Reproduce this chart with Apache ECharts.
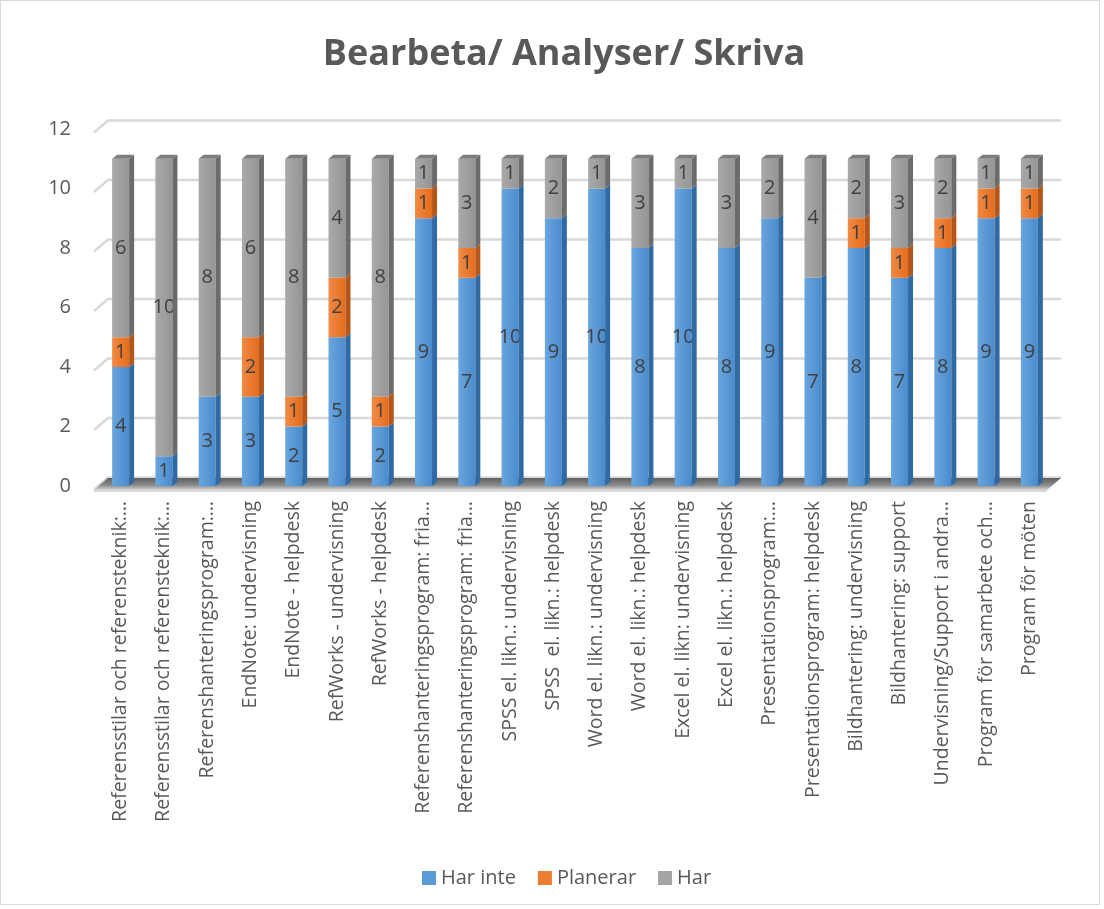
<!DOCTYPE html>
<html><head><meta charset="utf-8">
<script src="https://cdn.jsdelivr.net/npm/echarts@6/dist/echarts.min.js"></script>
<style>
html,body{margin:0;padding:0;background:#fff;}
#c{position:absolute;left:0;top:0;width:1100px;height:905px;border:1px solid #d9d9d9;box-sizing:border-box;}
</style></head>
<body><div id="c"></div>
<script>
const categories = [
 "Referensstilar och referensteknik:…",
 "Referensstilar och referensteknik:…",
 "Referenshanteringsprogram:…",
 "EndNote: undervisning",
 "EndNote - helpdesk",
 "RefWorks - undervisning",
 "RefWorks - helpdesk",
 "Referenshanteringsprogram: fria…",
 "Referenshanteringsprogram: fria…",
 "SPSS el. likn.: undervisning",
 "SPSS  el. likn.: helpdesk",
 "Word el. likn.: undervisning",
 "Word el. likn.: helpdesk",
 "Excel el. likn: undervisning",
 "Excel el. likn.: helpdesk",
 "Presentationsprogram:…",
 "Presentationsprogram: helpdesk",
 "Bildhantering: undervisning",
 "Bildhantering: support",
 "Undervisning/Support i andra…",
 "Program för samarbete och…",
 "Program för möten"
];
const harInte  = [4,1,3,3,2,5,2,9,7,10,9,10,8,10,8,9,7,8,7,8,9,9];
const planerar = [1,0,0,2,1,2,1,1,1,0,0,0,0,0,0,0,0,1,1,1,1,1];
const har      = [6,10,8,6,8,4,8,1,3,1,2,1,3,1,3,2,4,2,3,2,1,1];
const yTicks = [0,2,4,6,8,10,12];
const seriesNames = ["Har inte","Planerar","Har"];

const BW = 17, DX = 5, DY = 4;
const frontCols = [
  {type:'linear',x:0,y:0,x2:1,y2:0,colorStops:[{offset:0,color:'#6aa6de'},{offset:1,color:'#4a8bcc'}]},
  {type:'linear',x:0,y:0,x2:1,y2:0,colorStops:[{offset:0,color:'#f08a45'},{offset:1,color:'#e56c1c'}]},
  {type:'linear',x:0,y:0,x2:1,y2:0,colorStops:[{offset:0,color:'#a9a9a9'},{offset:1,color:'#959595'}]}
];
const sideCols = ['#2f6aa3','#b4561a','#6b6b6b'];
const topCols = ['#5a8fc4','#d0722f','#7d7d7d'];
const legendCols = ['#5b9bd5','#ed7d31','#a5a5a5'];

const chart = echarts.init(document.getElementById('c'));
const font = '"Open Sans", "Noto Sans", sans-serif';
const stacks = [harInte, planerar, har];

const barSeries = stacks.map((arr, k) => ({
  name: seriesNames[k], type: 'bar', stack: 'total', barWidth: BW, z: 3,
  itemStyle: {color: frontCols[k]},
  label: {show: true, position: 'inside', color: '#404040', fontSize: 20, fontFamily: font,
          formatter: p => p.value === 0 ? '' : String(p.value)},
  data: arr
}));

const sideSeries = {
  type: 'custom', name: 'side', z: 4, silent: true,
  data: categories.map((c, i) => [i, harInte[i], planerar[i], har[i]]),
  renderItem: function(params, api) {
    const i = api.value(0);
    const vals = [api.value(1), api.value(2), api.value(3)];
    const children = [];
    let cum = 0;
    let topK = -1;
    for (let k = 0; k < 3; k++) {
      if (vals[k] <= 0) continue;
      const p0 = api.coord([i, cum]);
      const p1 = api.coord([i, cum + vals[k]]);
      const xr = p0[0] + BW / 2;
      children.push({type:'polygon', shape:{points:[[xr,p1[1]],[xr+DX,p1[1]-DY],[xr+DX,p0[1]-DY],[xr,p0[1]]]},
        style:{fill: sideCols[k]}});
      cum += vals[k];
      topK = k;
    }
    const pt = api.coord([i, cum]);
    const xl = pt[0] - BW / 2, xr = pt[0] + BW / 2;
    children.push({type:'polygon', shape:{points:[[xl,pt[1]],[xl+DX,pt[1]-DY],[xr+DX,pt[1]-DY],[xr,pt[1]]]},
      style:{fill: topCols[topK]}});
    return {type:'group', children};
  }
};

const wallSeries = {
  type: 'custom', name: 'wall', z: 1, silent: true,
  data: yTicks.map(v => [0, v]),
  renderItem: function(params, api) {
    const cs = params.coordSys;
    const y = api.coord([0, api.value(1)])[1];
    const left = cs.x, right = cs.x + cs.width;
    const children = [{type:'polyline', shape:{points:[[left-5,y+3.5],[left+9,y-8.5],[right+10,y-8.5]]},
      style:{stroke:'#d9d9d9', lineWidth:2.5, fill:null}}];
    if (api.value(1) === 0) {
      children.push({type:'polygon', shape:{points:[[left-5,y+4],[left+9,y-8],[right+10,y-8],[right-4,y+4]]},
        style:{fill:{type:'linear',x:0,y:0,x2:0,y2:1,colorStops:[{offset:0,color:'#5f5f5f'},{offset:0.6,color:'#8a8a8a'},{offset:1,color:'#d6d6d6'}]}}});
      children.push({type:'line', shape:{x1:left-5,y1:y+5,x2:right-4,y2:y+5}, style:{stroke:'#d9d9d9', lineWidth:2}});
    }
    return {type:'group', children};
  }
};

chart.setOption({
  animation: false,
  title: {text: 'Bearbeta/ Analyser/ Skriva', left: 558, textAlign: 'center', top: 31,
    textStyle: {fontSize: 36, fontWeight: 'bold', color: '#595959', fontFamily: font}},
  legend: {data: seriesNames.map((n, k) => ({name: n, itemStyle: {color: legendCols[k]}})),
    left: 416, top: 862, itemWidth: 14, itemHeight: 14, itemGap: 22, icon: 'rect',
    textStyle: {fontSize: 20, color: '#595959', fontFamily: font}},
  grid: {left: 98, width: 952, top: 128, height: 357, containLabel: false},
  xAxis: {type: 'category', data: categories,
    axisLine: {show: false}, axisTick: {show: false},
    axisLabel: {rotate: 90, interval: 0, margin: 15, fontSize: 19.5, color: '#595959', fontFamily: font}},
  yAxis: {type: 'value', min: 0, max: 12, interval: 2,
    axisLine: {show: false}, axisTick: {show: false}, splitLine: {show: false},
    axisLabel: {margin: 28, fontSize: 20, color: '#595959', fontFamily: font, padding: [7,0,0,0]}},
  series: [wallSeries, ...barSeries, sideSeries]
});
</script></body></html>
